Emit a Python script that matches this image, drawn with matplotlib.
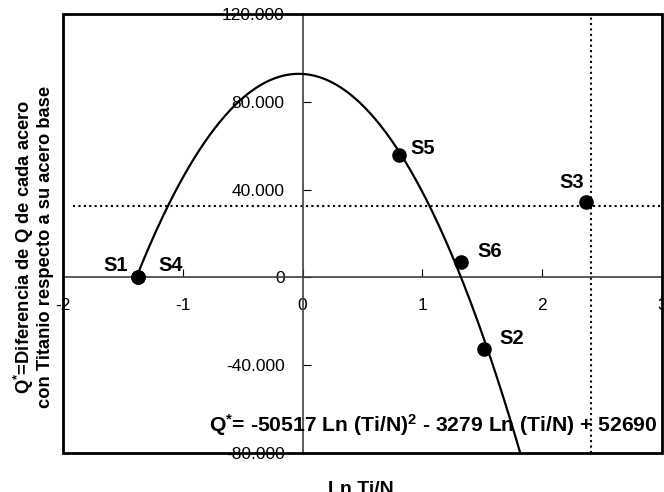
import numpy as np
import matplotlib
matplotlib.use('Agg')
import matplotlib.pyplot as plt
from matplotlib.ticker import FuncFormatter
from matplotlib.patches import Rectangle

plt.rcParams['font.family'] = ['Liberation Sans', 'DejaVu Sans']
plt.rcParams['mathtext.fontset'] = 'custom'
plt.rcParams['mathtext.rm'] = 'Liberation Sans'
plt.rcParams['mathtext.bf'] = 'Liberation Sans:bold'
plt.rcParams['mathtext.default'] = 'bf'
plt.rcParams['axes.unicode_minus'] = False

# samples (Ln Ti/N, Q*)
labels = ['S1', 'S4', 'S5', 'S3', 'S6', 'S2']
ln_ti_n = [-1.375, -1.375, 0.808, 2.364, 1.322, 1.511]
q_star = [0, 0, 55600, 34400, 7150, -32400]

# quadratic trend line as drawn (a, b, c)
trend_coef = [-50517, -3279, 92690]
trend_x_range = (-1.387, 1.82)

# reference lines
ref_q = 32700
ref_ln = 2.406

x_ticks = [-2, -1, 0, 1, 2, 3]
y_ticks = [-80000, -40000, 0, 40000, 80000, 120000]

fig = plt.figure(figsize=(6.64, 4.92), dpi=100)
ax = fig.add_axes([63/664, 39/492, 599/664, 439/492])
ax.set_xlim(-2, 3)
ax.set_ylim(-80000, 120000)

# move the axes to the origin, keep an outer frame
for s in ['top', 'right']:
    ax.spines[s].set_visible(False)
ax.spines['left'].set_position(('data', 0))
ax.spines['bottom'].set_position(('data', 0))
ax.spines['left'].set_color('#404040')
ax.spines['bottom'].set_color('#404040')
ax.spines['left'].set_linewidth(1.2)
ax.spines['bottom'].set_linewidth(1.2)
ax.add_patch(Rectangle((0, 0), 1, 1, transform=ax.transAxes, fill=False,
                       lw=2, ec='black', zorder=5, clip_on=False))

ax.set_xticks(x_ticks)
ax.set_yticks(y_ticks)
ax.yaxis.set_major_formatter(FuncFormatter(lambda v, p: f'{int(v):,}'.replace(',', '.')))
ax.tick_params(axis='x', direction='in', length=6, pad=15, labelsize=12.5)
ax.tick_params(axis='y', direction='in', length=6, pad=13, labelsize=12.5)

# trend line
xs = np.linspace(trend_x_range[0], trend_x_range[1], 300)
ax.plot(xs, np.polyval(trend_coef, xs), color='black', lw=1.6, zorder=3)

# dotted reference lines
ax.plot([-1.92, 3], [ref_q, ref_q], color='black', lw=1.5, ls=(0, (1, 1.6)))
ax.axvline(ref_ln, color='black', lw=1.5, ls=(0, (1, 1.6)))

ax.plot(ln_ti_n, q_star, 'o', color='black', ms=9.5, zorder=4)

offsets = {'S1': (-22, 12), 'S4': (33, 12), 'S5': (23, 7), 'S3': (-14, 19),
           'S6': (29, 10), 'S2': (28, 10)}
for lab, x, y in zip(labels, ln_ti_n, q_star):
    dx, dy = offsets[lab]
    ax.annotate(lab, (x, y), xytext=(dx, dy), textcoords='offset pixels',
                ha='center', va='center', fontsize=14.5, fontweight='bold')

ax.text(658/664, 1 - 425/492, r'Q$^{*}$= -50517 Ln (Ti/N)$^{2}$ - 3279 Ln (Ti/N) + 52690',
        transform=fig.transFigure, ha='right', va='center', fontsize=15.2,
        fontweight='bold', zorder=6)

fig.text(33/664, 1 - 247/492,
         'Q$^{*}$=Diferencia de Q de cada acero\ncon Titanio respecto a su acero base',
         rotation=90, ha='center', va='center', fontsize=13.2, fontweight='bold',
         linespacing=1.1)
fig.text(361/664, 1 - 481/492, 'Ln Ti/N', ha='center', va='top',
         fontsize=14, fontweight='bold')

fig.savefig('out.png', dpi=100)
